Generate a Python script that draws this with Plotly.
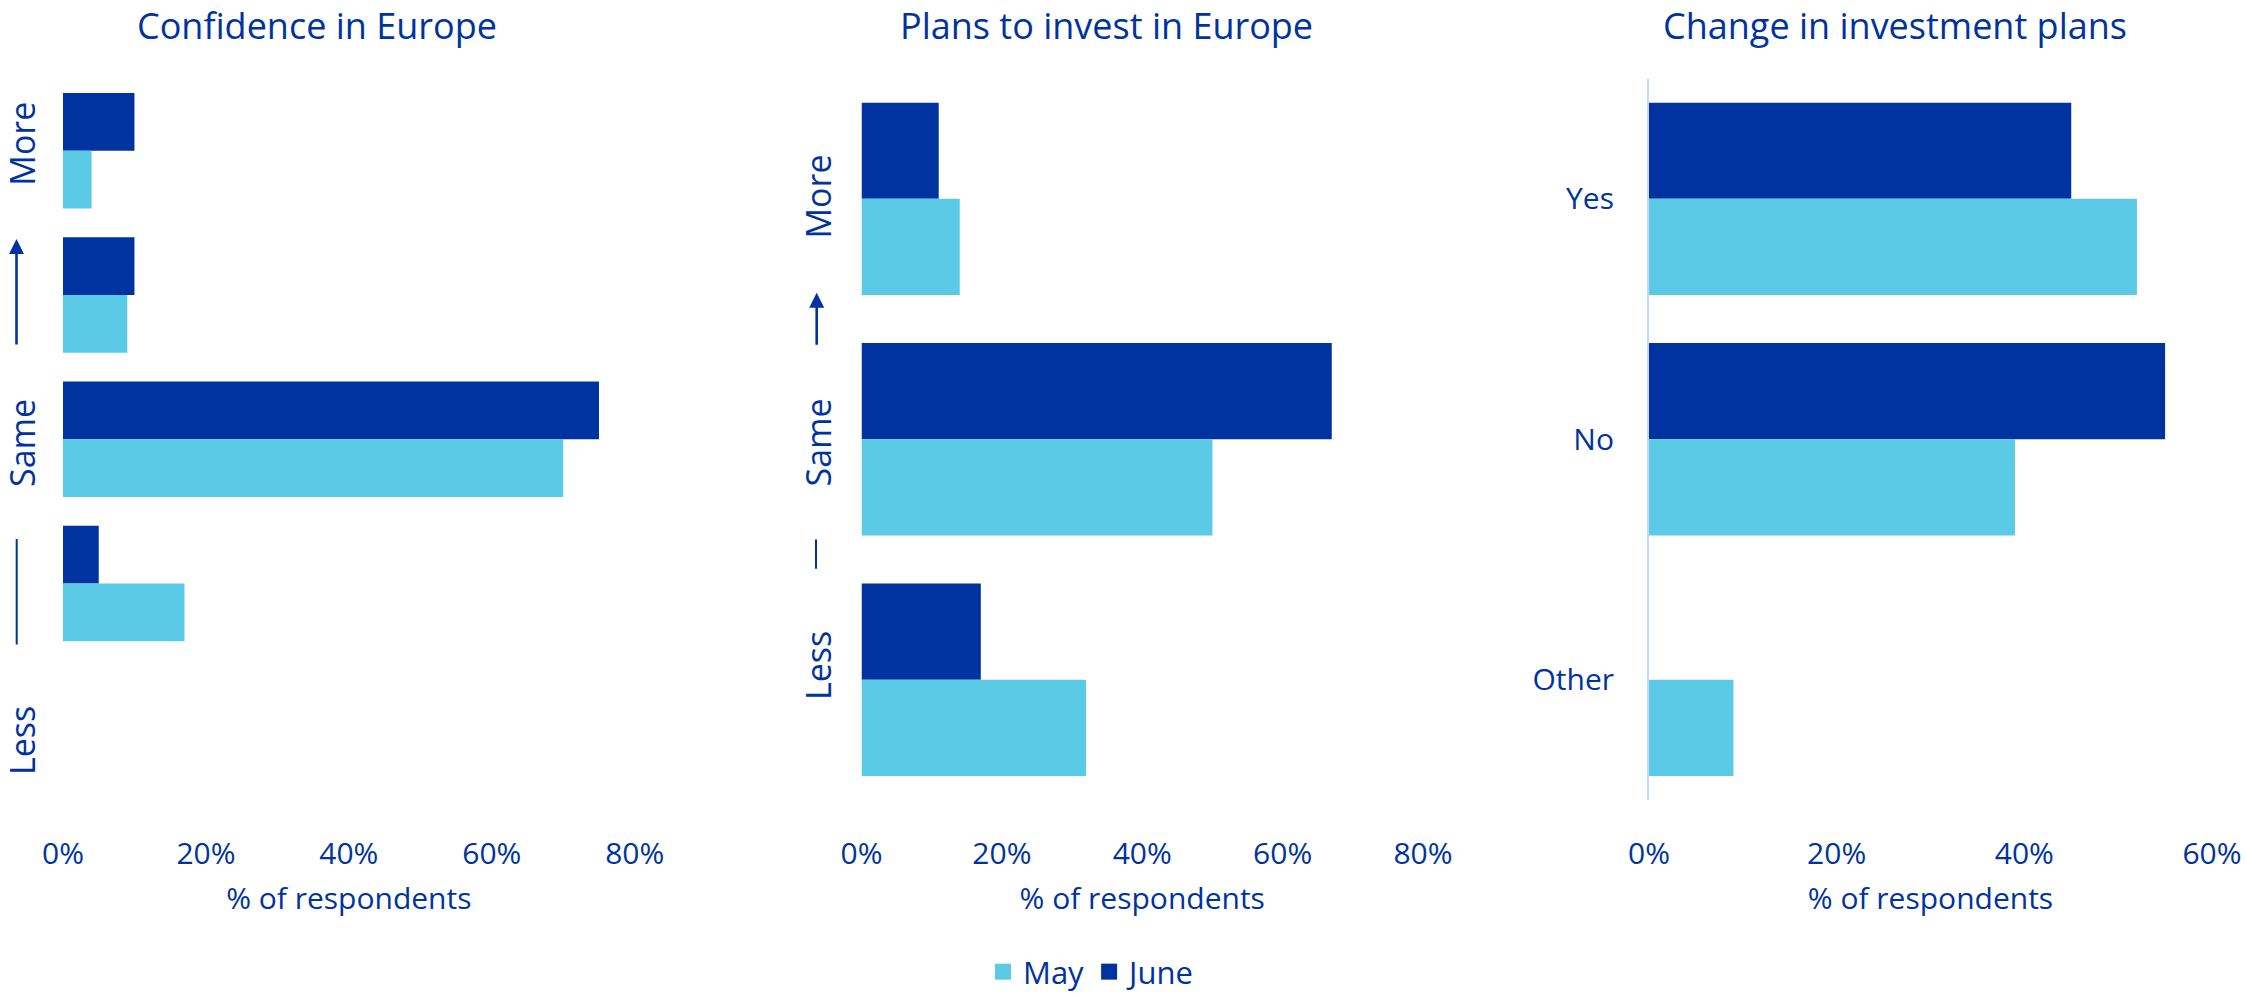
import plotly.graph_objects as go

# ---------------- data ----------------
conf_categories = ["Much more", "More", "Same", "Less", "Much less"]
conf_may = [4, 9, 70, 17, 0]
conf_june = [10, 10, 75, 5, 0]

plans_categories = ["More", "Same", "Less"]
plans_may = [14, 50, 32]
plans_june = [11, 67, 17]

change_categories = ["Yes", "No", "Other"]
change_may = [52, 39, 9]
change_june = [45, 55, None]

panel_titles = ["Confidence in Europe", "Plans to invest in Europe", "Change in investment plans"]
series_names = ["May", "June"]
x_ticks_1 = [0, 20, 40, 60, 80]
x_ticks_3 = [0, 20, 40, 60]
x_ticklabels_1 = ["0%", "20%", "40%", "60%", "80%"]
x_ticklabels_3 = ["0%", "20%", "40%", "60%"]
axis_title = "% of respondents"

# ---------------- style ----------------
W, H = 2246, 997
TXT = "#0033A0"
JUNE_C = "#0033A0"
MAY_C = "#5BCAE7"
FONT = "Open Sans"


def px(x):
    return x / W


def py(y):
    return 1 - y / H


y_dom = [py(800), py(78.6)]

fig = go.Figure()

panels = [
    ("x", "y", conf_categories, conf_may, conf_june),
    ("x2", "y2", plans_categories, plans_may, plans_june),
    ("x3", "y3", change_categories, change_may, change_june),
]
for xa, ya, cats, may, june in panels:
    fig.add_trace(go.Bar(y=cats, x=june, orientation="h", name="June",
                         marker=dict(color=JUNE_C, line=dict(width=0)),
                         xaxis=xa, yaxis=ya, showlegend=False))
    fig.add_trace(go.Bar(y=cats, x=may, orientation="h", name="May",
                         marker=dict(color=MAY_C, line=dict(width=0)),
                         xaxis=xa, yaxis=ya, showlegend=False))

# legend entries
fig.add_trace(go.Scatter(x=[None], y=[None], mode="markers", name=series_names[0],
                         marker=dict(symbol="square", size=16, color=MAY_C),
                         xaxis="x", yaxis="y", showlegend=True))
fig.add_trace(go.Scatter(x=[None], y=[None], mode="markers", name=series_names[1],
                         marker=dict(symbol="square", size=16, color=JUNE_C),
                         xaxis="x", yaxis="y", showlegend=True))

tickfont = dict(family=FONT, size=30, color=TXT)


def xaxis(domain, rng, ticks, labels):
    return dict(domain=domain, range=rng, tickmode="array", tickvals=ticks, ticktext=labels,
                showgrid=False, zeroline=False, showline=False, ticks="",
                tickfont=tickfont, ticklabelstandoff=33, automargin=False,
                title=dict(text=axis_title, font=dict(family=FONT, size=30, color=TXT), standoff=15),
                fixedrange=True)


fig.update_layout(
    width=W, height=H,
    margin=dict(l=0, r=0, t=0, b=0, autoexpand=False),
    paper_bgcolor="white", plot_bgcolor="white",
    barmode="group", bargap=0.2, bargroupgap=0,
    font=dict(family=FONT, color=TXT),
    xaxis=xaxis([px(63), px(634.7)], [0, 80], x_ticks_1, x_ticklabels_1),
    xaxis2=xaxis([px(861.5), px(1423)], [0, 80], x_ticks_1, x_ticklabels_1),
    xaxis3=xaxis([px(1649), px(2212)], [0, 60], x_ticks_3, x_ticklabels_3),
    yaxis=dict(domain=y_dom, anchor="x", range=[4.5, -0.5], showticklabels=False,
               showgrid=False, zeroline=False, showline=False, ticks="", fixedrange=True),
    yaxis2=dict(domain=y_dom, anchor="x2", range=[2.5, -0.5], showticklabels=False,
                showgrid=False, zeroline=False, showline=False, ticks="", fixedrange=True),
    yaxis3=dict(domain=y_dom, anchor="x3", range=[2.5, -0.5], showticklabels=True,
                showgrid=False, zeroline=False, showline=True, linecolor="#C8D7F5",
                linewidth=2, ticks="", tickfont=tickfont, ticklabelstandoff=27,
                automargin=False, fixedrange=True),
    legend=dict(orientation="h", x=px(1092), xanchor="center", y=py(972), yanchor="middle",
                font=dict(family=FONT, size=31, color=TXT), bgcolor="rgba(0,0,0,0)",
                itemclick=False, itemdoubleclick=False),
    showlegend=True,
)

annotations = []
# panel titles
for text, cx in zip(panel_titles, [317, 1106, 1894.5]):
    annotations.append(dict(text=text, x=px(cx), y=py(26), xref="paper", yref="paper",
                            xanchor="center", yanchor="middle", showarrow=False,
                            font=dict(family=FONT, size=36, color=TXT)))

# rotated scale labels
rot_labels = [
    ("More", 22, 143.7), ("Same", 22, 443), ("Less", 22, 741),
    ("More", 817.5, 197), ("Same", 817.5, 443), ("Less", 818, 666),
]
for text, cx, cy in rot_labels:
    annotations.append(dict(text=text, x=px(cx), y=py(cy), xref="paper", yref="paper",
                            xanchor="center", yanchor="middle", showarrow=False,
                            textangle=-90, font=dict(family=FONT, size=34, color=TXT)))

# arrows (up) and plain lines
arrows = [(16.5, 239, 346, 2), (816.7, 292.8, 346.3, 2)]
for cx, tip, tail, head in arrows:
    annotations.append(dict(text="", x=px(cx), y=py(tip), xref="paper", yref="paper",
                            showarrow=True, ax=0, ay=tail - tip, arrowhead=head,
                            arrowsize=1.15, arrowwidth=2.6, arrowcolor=TXT, standoff=0))
lines = [(16.7, 539, 646), (816, 539.6, 570.2)]
for cx, top, bot in lines:
    annotations.append(dict(text="", x=px(cx), y=py(top), xref="paper", yref="paper",
                            showarrow=True, ax=0, ay=bot - top, arrowhead=0,
                            arrowwidth=2, arrowcolor=TXT, standoff=0))

fig.update_layout(annotations=annotations)

fig.write_html(
    "out.html",
    config={"displayModeBar": False},
    post_script="document.body.style.margin='0';document.body.style.overflow='hidden';",
)
